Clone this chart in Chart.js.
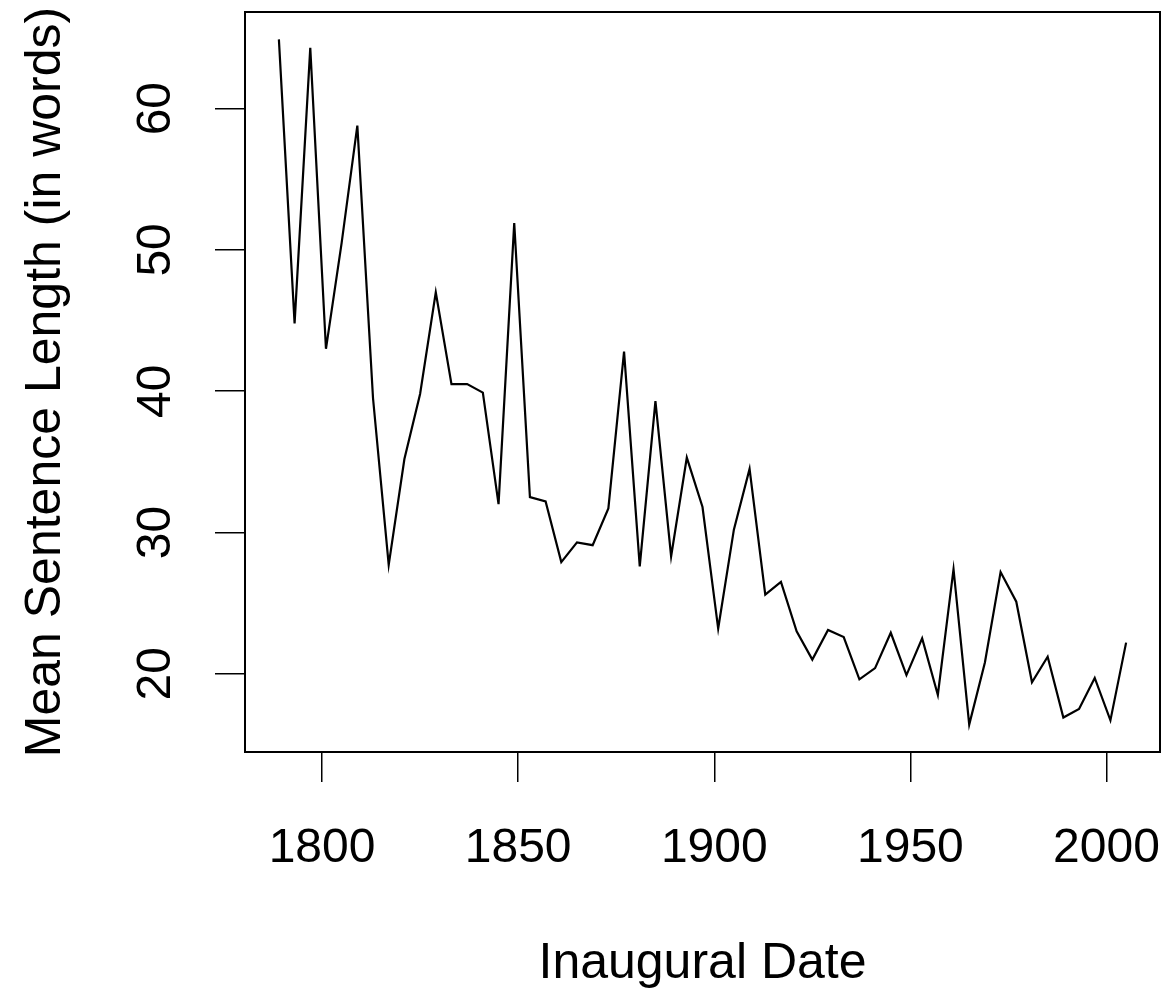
<!DOCTYPE html>
<html>
<head>
<meta charset="utf-8">
<script src="https://cdn.jsdelivr.net/npm/chart.js@4.4.1/dist/chart.umd.min.js"></script>
<style>
  html, body { margin: 0; padding: 0; background: #ffffff; }
  #wrap { width: 1168px; height: 989px; position: relative; }
</style>
</head>
<body>
<div id="wrap"><canvas id="c" width="1168" height="989"></canvas></div>
<script>
// ---- data ----
const years = [1789, 1793, 1797, 1801, 1805, 1809, 1813, 1817, 1821, 1825,
               1829, 1833, 1837, 1841, 1845, 1849, 1853, 1857, 1861, 1865,
               1869, 1873, 1877, 1881, 1885, 1889, 1893, 1897, 1901, 1905,
               1909, 1913, 1917, 1921, 1925, 1929, 1933, 1937, 1941, 1945,
               1949, 1953, 1957, 1961, 1965, 1969, 1973, 1977, 1981, 1985,
               1989, 1993, 1997, 2001, 2005];
const meanSentenceLength = [64.9, 44.8, 64.3, 43.0, 50.5, 58.8, 39.5, 27.7, 35.2, 39.8,
               47.0, 40.5, 40.5, 39.9, 32.0, 51.9, 32.5, 32.2, 27.9, 29.3,
               29.1, 31.7, 42.8, 27.6, 39.3, 28.3, 35.3, 31.8, 23.2, 30.2,
               34.5, 25.6, 26.5, 23.0, 21.0, 23.1, 22.6, 19.6, 20.4, 22.9,
               19.9, 22.5, 18.5, 27.4, 16.4, 20.8, 27.2, 25.1, 19.4, 21.2,
               16.9, 17.5, 19.7, 16.7, 22.2];
const xTicks = [1800, 1850, 1900, 1950, 2000];
const yTicks = [20, 30, 40, 50, 60];
const xTitle = 'Inaugural Date';
const yTitle = 'Mean Sentence Length (in words)';

// R-style 4% axis extension
function rRange(vals) {
  const lo = Math.min(...vals), hi = Math.max(...vals);
  const d = (hi - lo) * 0.04;
  return [lo - d, hi + d];
}
const [xMin, xMax] = rRange(years);
const [yMin, yMax] = rRange(meanSentenceLength);

const FONT = '"Liberation Sans", Arial, Helvetica, sans-serif';

function zeroPad(s) {
  s.paddingTop = 0; s.paddingBottom = 0; s.paddingLeft = 0; s.paddingRight = 0;
}

const boxPlugin = {
  id: 'box',
  afterDraw(chart) {
    const a = chart.chartArea, ctx = chart.ctx;
    ctx.save();
    ctx.strokeStyle = '#000';
    ctx.lineWidth = 2;
    ctx.strokeRect(a.left, a.top, a.right - a.left, a.bottom - a.top);
    ctx.restore();
  }
};

new Chart(document.getElementById('c'), {
  type: 'line',
  data: {
    datasets: [{
      data: years.map((y, i) => ({ x: y, y: meanSentenceLength[i] })),
      borderColor: '#000',
      borderWidth: 2.2,
      pointRadius: 0,
      tension: 0,
      fill: false
    }]
  },
  options: {
    responsive: false,
    animation: false,
    events: [],
    layout: { padding: { left: 0, top: 12, right: 8, bottom: 0 } },
    plugins: { legend: { display: false }, tooltip: { enabled: false } },
    scales: {
      x: {
        type: 'linear',
        min: xMin, max: xMax,
        afterBuildTicks(s) { s.ticks = xTicks.map(v => ({ value: v })); },
        afterFit(s) { s.height = 237; zeroPad(s); },
        grid: { display: true, drawOnChartArea: false, drawTicks: true, tickLength: 30, color: '#000', lineWidth: 1.5 },
        border: { display: false },
        ticks: { color: '#000', font: { family: FONT, size: 48 }, padding: 38, maxRotation: 0, autoSkip: false,
                 callback: v => String(v) },
        title: { display: true, text: xTitle, color: '#000', font: { family: FONT, size: 50, lineHeight: 1 }, padding: { top: 0, bottom: 0 } }
      },
      y: {
        type: 'linear',
        min: yMin, max: yMax,
        afterBuildTicks(s) { s.ticks = yTicks.map(v => ({ value: v })); },
        afterFit(s) { s.width = 245; zeroPad(s); },
        grid: { display: true, drawOnChartArea: false, drawTicks: true, tickLength: 30, color: '#000', lineWidth: 1.5 },
        border: { display: false },
        ticks: { color: '#000', font: { family: FONT, size: 48 }, padding: 32, minRotation: 90, maxRotation: 90,
                 crossAlign: 'center', autoSkip: false, callback: v => String(v) },
        title: { display: true, text: yTitle, color: '#000', font: { family: FONT, size: 50, lineHeight: 1 }, padding: { top: 21, bottom: 0 } }
      }
    }
  },
  plugins: [boxPlugin]
});
</script>
</body>
</html>
